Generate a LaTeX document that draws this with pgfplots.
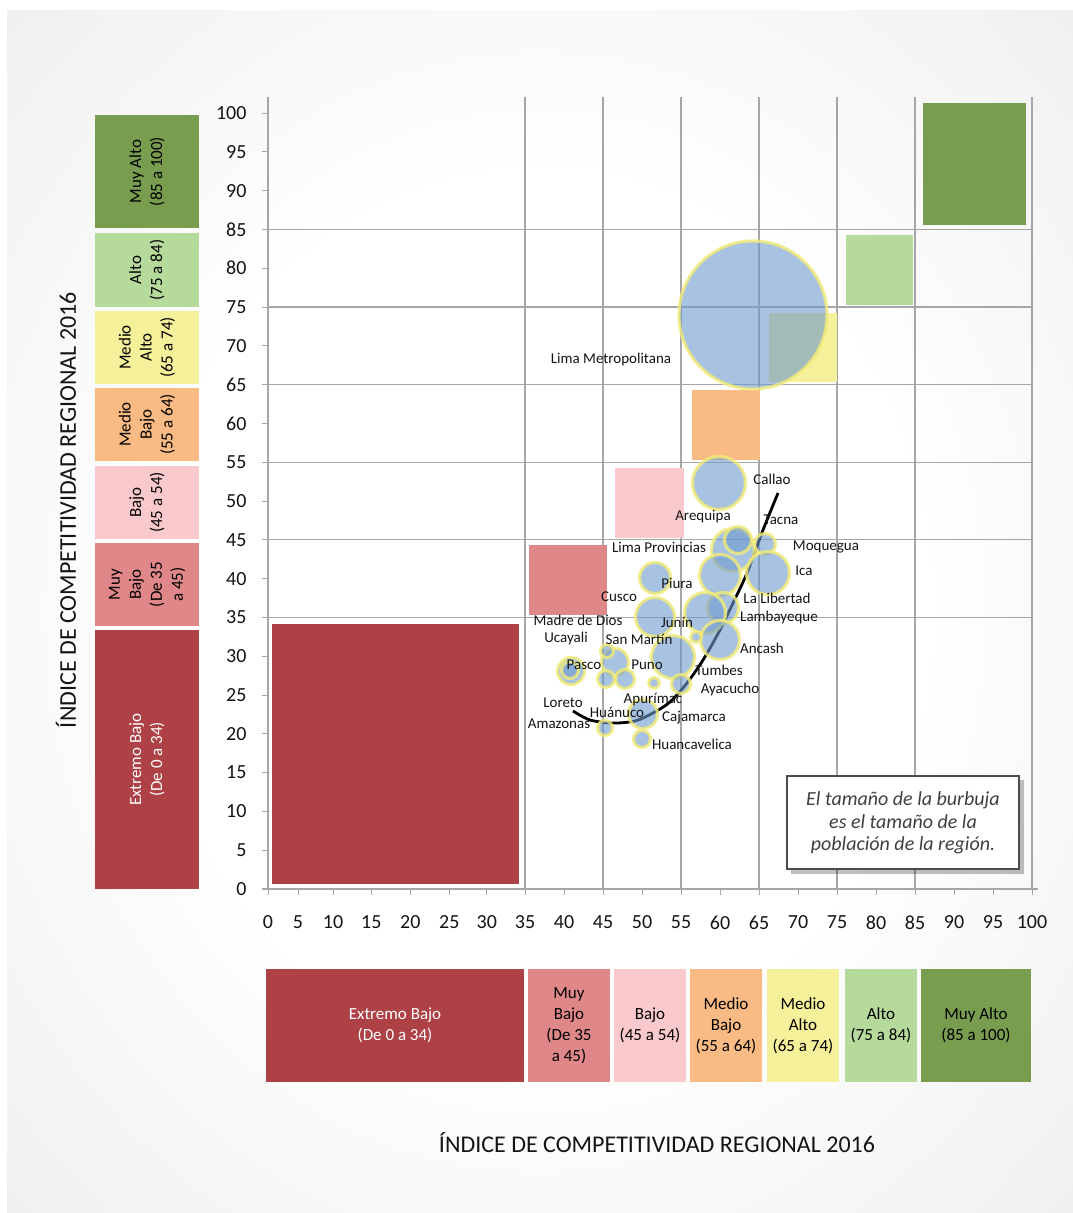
\documentclass[border=0pt]{standalone}
\usepackage{pgfplots}
\usepackage{pgfplotstable}
\pgfplotsset{compat=1.18}
\usepackage{fontspec}
\setmainfont{Carlito}
\definecolor{cExt}{HTML}{AD4146}
\definecolor{cMB}{HTML}{DF8789}
\definecolor{cB}{HTML}{FAC9CB}
\definecolor{cMdB}{HTML}{F9BA83}
\definecolor{cMdA}{HTML}{F5F09A}
\definecolor{cA}{HTML}{B6DA9B}
\definecolor{cMA}{HTML}{799D4E}
\definecolor{bub}{HTML}{6F9ACF}
\definecolor{bubedge}{HTML}{F2EB78}
\definecolor{gridc}{HTML}{A6A6A6}
\definecolor{bggray}{HTML}{E2E3E4}
\definecolor{txt}{HTML}{141414}
\pgfdeclareradialshading{bgshade}{\pgfpoint{0bp}{0bp}}{color(0bp)=(white); color(18bp)=(white); color(50bp)=(bggray); color(72bp)=(bggray)}

% bubbles: x, y, marker radius (pt)
\pgfplotstableread{
x y s
64.23 73.97 74
59.87 52.32 26.5
61.67 43.69 21.5
62.31 44.97 13.5
65.77 44.46 10.5
66.15 40.72 21.5
60.00 40.46 20.5
51.67 40.08 15.5
51.67 35.05 19.5
60.38 36.21 15.5
58.08 35.57 20.5
60.00 32.09 19.5
56.92 32.47 5.5
53.97 29.90 21.5
55.00 26.42 9.5
51.54 26.55 5.5
46.54 29.25 13.5
45.51 30.67 6.5
45.38 27.06 8.5
47.82 27.06 9.5
40.90 28.09 13.5
40.77 28.22 8.5
50.13 22.55 14.5
45.26 20.75 7.5
50.00 19.33 8.5
}\bubbles

\newcommand{\boxfont}{\fontsize{17}{21}\selectfont}
\newcommand{\lblfont}{\fontsize{15}{17}\selectfont}

\begin{document}
\begin{tikzpicture}
\fill[white] (0,0) rectangle (1073pt,-1213pt);
\path[use as bounding box] (0,0) rectangle (1073pt,-1213pt);
\begin{scope}[x=1pt,y=-1pt]
\shade[shading=bgshade] (7,10) rectangle (1073,1213);
% left legend boxes
\fill[cMA] (95,115) rectangle (199,228);
\fill[cA] (95,233) rectangle (199,307);
\fill[cMdA] (95,311) rectangle (199,384);
\fill[cMdB] (95,388) rectangle (199,461);
\fill[cB] (95,466) rectangle (199,539);
\fill[cMB] (95,543) rectangle (199,626);
\fill[cExt] (95,630) rectangle (199,889);
\node[rotate=90, align=center, font=\boxfont] at (147,171.5) {Muy Alto\\(85 a 100)};
\node[rotate=90, align=center, font=\boxfont] at (147,270) {Alto\\(75 a 84)};
\node[rotate=90, align=center, font=\boxfont] at (147,347.5) {Medio\\Alto\\(65 a 74)};
\node[rotate=90, align=center, font=\boxfont] at (147,424.5) {Medio\\Bajo\\(55 a 64)};
\node[rotate=90, align=center, font=\boxfont] at (147,502.5) {Bajo\\(45 a 54)};
\node[rotate=90, align=center, font=\boxfont] at (147,584.5) {Muy\\Bajo\\(De 35\\a 45)};
\node[rotate=90, align=center, font=\boxfont, text=white] at (147,759.5) {Extremo Bajo\\(De 0 a 34)};
% bottom legend boxes
\fill[cExt] (266,969) rectangle (524,1082);
\fill[cMB] (528,969) rectangle (610,1082);
\fill[cB] (614,969) rectangle (686,1082);
\fill[cMdB] (690,969) rectangle (762,1082);
\fill[cMdA] (767,969) rectangle (839,1082);
\fill[cA] (845,969) rectangle (917,1082);
\fill[cMA] (921,969) rectangle (1031,1082);
\node[align=center, font=\boxfont, text=white] at (395,1025.5) {Extremo Bajo\\(De 0 a 34)};
\node[align=center, font=\boxfont] at (569,1025.5) {Muy\\Bajo\\(De 35\\a 45)};
\node[align=center, font=\boxfont] at (650,1025.5) {Bajo\\(45 a 54)};
\node[align=center, font=\boxfont] at (726,1025.5) {Medio\\Bajo\\(55 a 64)};
\node[align=center, font=\boxfont] at (803,1025.5) {Medio\\Alto\\(65 a 74)};
\node[align=center, font=\boxfont] at (881,1025.5) {Alto\\(75 a 84)};
\node[align=center, font=\boxfont] at (976,1025.5) {Muy Alto\\(85 a 100)};
% axis titles
\node[rotate=90, font=\fontsize{24}{28}\selectfont, text=txt] at (66,510) {ÍNDICE DE COMPETITIVIDAD REGIONAL 2016};
\node[font=\fontsize{24}{28}\selectfont, text=txt] at (657,1143) {ÍNDICE DE COMPETITIVIDAD REGIONAL 2016};
\end{scope}

\begin{axis}[
  scale only axis, width=764pt, height=791.52pt,
  at={(268pt,-889pt)}, anchor=south west,
  xmin=2.05, xmax=100, ymin=0, ymax=102,
  axis lines*=left,
  axis line style={draw=gridc, line width=1.2pt},
  x axis line style={shorten <=-6pt, shorten >=-6pt},
  xtick={2.05,5.9,10.4,15.3,20.3,25.3,30.1,35,40,45,50,55,60,65,70,75,80,85,90,95,100},
  xticklabels={0,5,10,15,20,25,30,35,40,45,50,55,60,65,70,75,80,85,90,95,100},
  ytick={0,5,...,100},
  tick align=outside, major tick length=6pt,
  tick style={draw=gridc, line width=1pt},
  ticklabel style={font=\fontsize{20}{22}\selectfont, text=txt},
  yticklabel style={xshift=-12pt},
  xticklabel style={yshift=-17pt},
  /pgf/number format/assume math mode=true,
  minor xtick={35,45,55,65,75,85,100},
  minor ytick={35,45,55,65,75,85},
  minor tick length=0pt,
  xminorgrids, yminorgrids,
  minor grid style={draw=gridc, line width=1.3pt},
  clip=false,
]
% category squares
\addplot[fill=cExt, draw=none] coordinates {(2.56,0.64) (34.23,0.64) (34.23,34.15) (2.56,34.15)} -- cycle;
\addplot[fill=cMB, draw=none] coordinates {(35.51,35.31) (45.51,35.31) (45.51,44.33) (35.51,44.33)} -- cycle;
\addplot[fill=cB, draw=none] coordinates {(46.54,45.23) (55.38,45.23) (55.38,54.25) (46.54,54.25)} -- cycle;
\addplot[fill=cMdB, draw=none] coordinates {(56.41,55.28) (65.13,55.28) (65.13,64.30) (56.41,64.30)} -- cycle;
\addplot[fill=cMdA, draw=none] coordinates {(66.28,65.34) (75.00,65.34) (75.00,74.23) (66.28,74.23)} -- cycle;
\addplot[fill=cA, draw=none] coordinates {(76.15,75.26) (84.74,75.26) (84.74,84.28) (76.15,84.28)} -- cycle;
\addplot[fill=cMA, draw=none] coordinates {(86.03,85.57) (99.23,85.57) (99.23,101.29) (86.03,101.29)} -- cycle;
% bubbles
\addplot[scatter, only marks, mark=*,
  scatter/use mapped color={draw=bubedge, fill=bub},
  visualization depends on={\thisrow{s} \as \msize},
  scatter/@pre marker code/.append style={/tikz/mark size=\msize},
  mark options={line width=3.2pt, fill opacity=0.6, draw opacity=0.8},
] table[x=x, y=y, meta=s] {\bubbles};
% trend curve
\addplot[black, line width=2.8pt, smooth] coordinates {
(41.15,22.94) (43.33,21.78) (46.28,21.39) (49.10,21.65) (51.41,22.68) (53.59,24.10)
(55.77,26.55) (57.82,29.51) (60.00,33.38) (61.79,37.11) (63.46,40.72) (65.51,46.26) (67.44,51.03)};
\end{axis}

\begin{scope}[x=1pt,y=-1pt]
\begin{scope}[every node/.style={font=\lblfont, text=txt, inner sep=0pt}]
\node at (611,359) {Lima Metropolitana};
\node at (772,479) {Callao};
\node at (703,517) {Arequipa};
\node at (781,520) {Tacna};
\node at (659,547) {Lima Provincias};
\node at (826,547) {Moquegua};
\node at (804,571) {Ica};
\node at (677,583) {Piura};
\node at (619,597) {Cusco};
\node at (777,598) {La Libertad};
\node at (779,617) {Lambayeque};
\node at (578,620) {Madre de Dios};
\node at (677,622) {Junín};
\node at (566,638) {Ucayali};
\node at (639,639) {San Martín};
\node at (762,648) {Ancash};
\node at (584,665) {Pasco};
\node at (647,665) {Puno};
\node at (719,670) {Tumbes};
\node at (730,689) {Ayacucho};
\node at (563,703) {Loreto};
\node at (653,700) {Apurímac};
\node at (617,712) {Huánuco};
\node at (694,718) {Cajamarca};
\node at (559,724) {Amazonas};
\node at (692,744) {Huancavelica};
\end{scope}
% annotation box
\fill[black, opacity=0.25] (791,780) rectangle (1024,874);
\filldraw[fill=white, draw=black!70, line width=1.5pt] (787,776) rectangle (1019,869);
\node[align=center, font=\fontsize{20}{22.5}\selectfont\itshape, text=black!75] at (903,823) {El tamaño de la burbuja\\es el tamaño de la\\población de la región.};
\end{scope}
\end{tikzpicture}
\end{document}
